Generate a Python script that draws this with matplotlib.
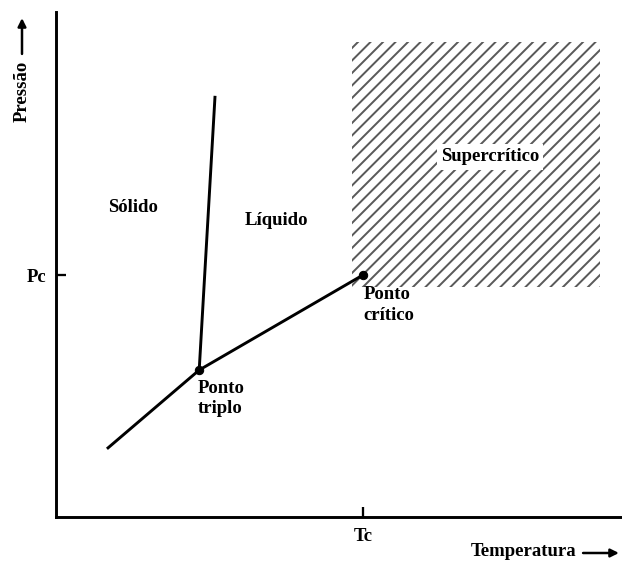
import matplotlib
matplotlib.use("Agg")
import matplotlib.pyplot as plt
from matplotlib.patches import Rectangle, FancyArrowPatch

# --- data (temperature / pressure in arbitrary units 0-100) ---
triple_point = (25.3, 29.1)
critical_point = (54.2, 47.9)
fusion_T = [25.3, 28.1]
fusion_P = [29.1, 83.4]
vapor_T = [9.0, 25.3, 54.2]
vapor_P = [13.5, 29.1, 47.9]
super_T = [52.3, 96.1]
super_P = [45.5, 94.1]
tick_labels_x = ["Tc"]
tick_labels_y = ["Pc"]
region_labels = ["Sólido", "Líquido", "Supercrítico"]
region_T = [13.6, 39.0, 76.7]
region_P = [61.2, 58.8, 71.3]

DPI = 75
plt.rcParams["font.family"] = ["Liberation Serif", "DejaVu Serif"]
plt.rcParams["font.weight"] = "bold"
plt.rcParams["hatch.linewidth"] = 1.9

fig = plt.figure(figsize=(622 / DPI, 562 / DPI), dpi=DPI)
ax = fig.add_axes([56 / 622, 45 / 562, 566 / 622, 505 / 562])
ax.set_xlim(0, 100)
ax.set_ylim(0, 100)

for s in ["top", "right"]:
    ax.spines[s].set_visible(False)
for s in ["left", "bottom"]:
    ax.spines[s].set_linewidth(2.8)

fs = 18
ax.set_xticks([critical_point[0]], tick_labels_x)
ax.set_yticks([critical_point[1]], tick_labels_y)
ax.tick_params(direction="in", length=10, width=2.2, labelsize=fs, pad=9)
ax.tick_params(axis="x", pad=11)
for lab in ax.get_xticklabels() + ax.get_yticklabels():
    lab.set_fontweight("bold")

# supercritical hatched region
rect = Rectangle((super_T[0], super_P[0]), super_T[1] - super_T[0], super_P[1] - super_P[0],
                 facecolor="none", edgecolor="#5a5a5a", linewidth=0, hatch="//")
ax.add_patch(rect)

# phase lines
ax.plot(fusion_T, fusion_P, color="black", lw=2.8, solid_capstyle="butt")
ax.plot(vapor_T, vapor_P, color="black", lw=2.8, solid_capstyle="butt")
ax.plot([triple_point[0], critical_point[0]], [triple_point[1], critical_point[1]],
        "o", color="black", ms=8)

for lbl, t, p in zip(region_labels, region_T, region_P):
    kw = {}
    if lbl == "Supercrítico":
        kw["bbox"] = dict(facecolor="white", edgecolor="none", pad=4)
    ax.text(t, p, lbl, ha="center", va="center", fontsize=fs, fontweight="bold", **kw)

ax.text(critical_point[0] + 0.1, critical_point[1] - 2.2, "Ponto\ncrítico", ha="left", va="top",
        fontsize=fs, fontweight="bold", linespacing=1.3)
ax.text(triple_point[0] - 0.3, triple_point[1] - 2.0, "Ponto\ntriplo", ha="left", va="top",
        fontsize=fs, fontweight="bold", linespacing=1.25)

# axis labels with arrows
fig.text(471 / 622, 1 - 552 / 562, "Temperatura", ha="left", va="center", fontsize=fs, fontweight="bold")
fig.add_artist(FancyArrowPatch((581 / 622, 1 - 553 / 562), (621 / 622, 1 - 553 / 562),
               transform=fig.transFigure, arrowstyle="-|>", mutation_scale=16, lw=2.4, color="black"))
fig.text(22 / 622, 1 - 122 / 562, "Pressão", ha="center", va="bottom", rotation=90, fontsize=fs, fontweight="bold")
fig.add_artist(FancyArrowPatch((22 / 622, 1 - 56 / 562), (22 / 622, 1 - 16 / 562),
               transform=fig.transFigure, arrowstyle="-|>", mutation_scale=16, lw=2.4, color="black"))

fig.savefig("out.png", dpi=DPI)
